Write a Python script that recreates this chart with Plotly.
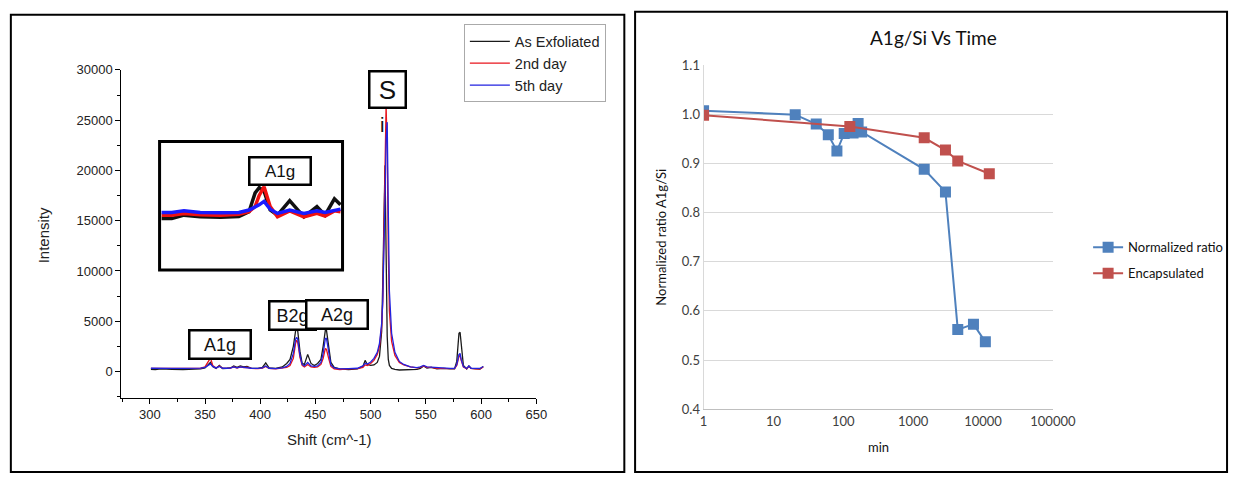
import plotly.graph_objects as go

W, H = 1252, 482

# ---------------- Raman spectrum data (left panel) ----------------
shift = [301, 305, 310, 315, 320, 330, 340, 346, 350, 353,
         355, 357, 360, 363, 366, 370, 373, 376, 379, 382,
         385, 388, 392, 398, 402, 405, 408, 414, 420, 424,
         427, 430, 432, 433, 434, 436, 438, 440, 443, 446,
         449, 452, 455, 457, 459, 460, 462, 464, 467, 472,
         480, 488, 493, 495, 497, 500, 503, 506, 508, 510,
         511, 512, 513, 514, 515, 516, 517, 519, 522, 526,
         530, 536, 542, 545, 548, 551, 555, 560, 566, 572,
         576, 578, 580, 581, 582, 584, 587, 589, 591, 595,
         599, 602]

as_exfoliated = [200, 180, 250, 200, 220, 200, 230, 260, 350, 700,
                 900, 500, 300, 600, 300, 320, 350, 550, 400, 550,
                 450, 500, 300, 300, 400, 850, 350, 300, 450, 800,
                 1200, 2500, 4000, 4200, 4000, 2000, 800, 700, 1700, 800,
                 600, 800, 1200, 2500, 4100, 4100, 2500, 900, 400, 250,
                 200, 250, 500, 1100, 700, 600, 650, 900, 1500, 4000,
                 9000, 17000, 20500, 12000, 3500, 1200, 600, 300, 200, 150,
                 150, 150, 200, 300, 550, 350, 400, 250, 300, 250,
                 250, 1000, 3800, 3900, 2500, 600, 250, 550, 300, 250,
                 250, 500]

day2 = [300, 300, 320, 280, 270, 280, 300, 330, 450, 1000,
        1350, 600, 350, 550, 300, 300, 330, 450, 350, 450,
        380, 420, 300, 280, 330, 500, 300, 250, 300, 400,
        600, 1300, 2800, 3100, 2900, 1400, 600, 450, 700, 450,
        400, 450, 700, 1300, 2300, 2200, 1300, 500, 250, 200,
        250, 280, 400, 650, 600, 800, 1100, 1700, 2500, 4500,
        7000, 12000, 20000, 26500, 22000, 12000, 6000, 3000, 1600, 900,
        650, 450, 350, 400, 550, 400, 400, 300, 300, 280,
        280, 600, 1500, 1600, 1100, 450, 280, 500, 300, 250,
        260, 450]

day5 = [320, 330, 350, 300, 300, 300, 320, 340, 420, 650,
        750, 500, 350, 500, 320, 320, 340, 450, 360, 450,
        400, 420, 320, 300, 350, 550, 320, 280, 350, 500,
        800, 1800, 3200, 3400, 3200, 1600, 700, 550, 900, 550,
        500, 550, 900, 1800, 3300, 3300, 1800, 650, 350, 250,
        280, 320, 550, 800, 750, 950, 1300, 1900, 2800, 4800,
        7000, 11000, 17000, 23000, 24800, 16000, 8000, 3800, 1900, 1000,
        700, 450, 380, 450, 600, 450, 420, 320, 320, 300,
        300, 700, 1700, 1800, 1200, 500, 300, 550, 320, 280,
        300, 500]

# inset (zoom on the A1g region)
inset_shift = [330.5, 333, 336, 340, 345, 349.5, 352, 353.5, 354.5,
               355.7, 357.2, 359, 362, 365.5, 368.7, 370.7, 373, 374.5]
inset_exf = [600, 600, 640, 620, 615, 625, 680, 900, 960,
             920, 700, 640, 810, 620, 740, 640, 830, 760]
inset_day2 = [640, 640, 660, 645, 640, 650, 680, 740, 870,
              970, 740, 620, 690, 620, 660, 630, 690, 680]
inset_day5 = [670, 672, 690, 672, 668, 672, 700, 730, 760,
              800, 710, 660, 700, 660, 690, 670, 700, 710]

# ---------------- A1g/Si vs time (right panel) ----------------
time_norm = [1, 20.5, 41, 61, 81, 103, 138, 163, 183, 1440, 2900, 4350, 7300, 10800]
ratio_norm = [1.007, 0.999, 0.980, 0.958, 0.925, 0.961, 0.962, 0.981, 0.964,
              0.888, 0.842, 0.562, 0.573, 0.537]
time_enc = [1, 124, 1440, 2900, 4350, 12300]
ratio_enc = [0.998, 0.975, 0.952, 0.927, 0.905, 0.879]
log_tickvals = [1, 10, 100, 1000, 10000, 100000]
log_ticktext = ["1", "10", "100", "1000", "10000", "100000"]


def px(x):
    return x / W


def py(y):
    return 1 - y / H


ARIAL = "Liberation Sans, Arial, sans-serif"
CAL = "Lato, Carlito, sans-serif"

fig = go.Figure()

# main spectrum
for name, ys, col in [("As Exfoliated", as_exfoliated, "#1a1a1a"),
                      ("2nd day", day2, "#e8141c"),
                      ("5th day", day5, "#2222e0")]:
    fig.add_trace(go.Scatter(x=shift, y=ys, mode="lines", name=name,
                             line=dict(color=col, width=1.3),
                             xaxis="x", yaxis="y", legend="legend"))

# inset
for ys, col in [(inset_exf, "#111111"), (inset_day2, "#f01010"), (inset_day5, "#1a1aff")]:
    fig.add_trace(go.Scatter(x=inset_shift, y=ys, mode="lines", showlegend=False,
                             line=dict(color=col, width=3.5),
                             xaxis="x3", yaxis="y3"))

# ratio chart
fig.add_trace(go.Scatter(x=time_norm, y=ratio_norm, mode="lines+markers",
                         name="Normalized ratio", legendgroup="norm",
                         line=dict(color="#4f81bd", width=2),
                         marker=dict(symbol="square", size=11, color="#4f81bd"),
                         xaxis="x2", yaxis="y2", legend="legend2"))
fig.add_trace(go.Scatter(x=time_enc, y=ratio_enc, mode="lines+markers",
                         name="Encapsulated", legendgroup="enc",
                         line=dict(color="#c0504d", width=2),
                         marker=dict(symbol="square", size=11, color="#c0504d"),
                         xaxis="x2", yaxis="y2", legend="legend2"))

axis_common = dict(showline=True, linecolor="black", linewidth=1.3, ticks="outside",
                   ticklen=5, tickwidth=1.2, tickcolor="black", showgrid=False,
                   zeroline=False, tickfont=dict(family=ARIAL, size=13, color="#222"))


def text_ann(text, x, y, size, family, angle=0, color="#111"):
    return dict(text=text, x=px(x), y=py(y), xref="paper", yref="paper",
                xanchor="center", yanchor="middle", textangle=angle,
                showarrow=False, font=dict(family=family, size=size, color=color))


annotations = [
    text_ann("Intensity", 40, 235, 15, ARIAL, -90, "#222"),
    text_ann("Shift (cm^-1)", 333, 446, 15, ARIAL, 0, "#222"),
    text_ann("A1g/Si Vs Time", 950, 30, 19, CAL),
    text_ann("Normalized ratio A1g/Si", 672, 237, 13, CAL, -90),
    text_ann("min", 894, 454, 13, CAL),
    text_ann("i", 386, 121, 20, ARIAL),
]


def box_label(text, x0, x1, y0, y1, size):
    return dict(text=text, x=px((x0 + x1) / 2), y=py((y0 + y1) / 2), xref="paper", yref="paper",
                xanchor="center", yanchor="middle",
                showarrow=False, width=x1 - x0 - 2, height=y1 - y0 - 2, borderpad=0,
                bordercolor="black", borderwidth=2.5, bgcolor="white",
                font=dict(family=ARIAL, size=size, color="#111"))


annotations += [
    box_label("A1g", 190, 251, 334, 362, 18),
    box_label("B2g", 272, 318, 304, 332, 18),
    box_label("A2g", 310, 371, 303, 331, 18),
    box_label("S", 374, 410, 66, 102, 26),
    box_label("A1g", 252, 313, 155, 182, 17),
]

shapes = [
    dict(type="rect", xref="paper", yref="paper", x0=px(7), x1=px(634), y0=py(480), y1=py(7),
         line=dict(color="black", width=2)),
    dict(type="rect", xref="paper", yref="paper", x0=px(645), x1=px(1250), y0=py(480), y1=py(4),
         line=dict(color="black", width=2)),
    dict(type="rect", xref="paper", yref="paper", x0=px(159), x1=px(346), y0=py(271), y1=py(138),
         line=dict(color="black", width=3)),
]

fig.update_layout(
    width=W, height=H, margin=dict(l=0, r=0, t=0, b=0),
    paper_bgcolor="white", plot_bgcolor="white",
    xaxis=dict(domain=[px(120), px(544)], range=[274.3, 650], anchor="y",
               tickvals=[300, 350, 400, 450, 500, 550, 600, 650],
               minor=dict(ticks="outside", ticklen=3, dtick=25, tick0=0, tickcolor="black"),
               **axis_common),
    yaxis=dict(domain=[py(403), py(64)], range=[-2600, 30000], anchor="x",
               tickvals=[0, 5000, 10000, 15000, 20000, 25000, 30000], tickformat="d",
               minor=dict(ticks="outside", ticklen=3, dtick=2500, tick0=0, tickcolor="black"),
               **axis_common),
    xaxis3=dict(domain=[px(159), px(346)], range=[330, 375], anchor="y3",
                visible=False),
    yaxis3=dict(domain=[py(271), py(138)], range=[0, 1500], anchor="x3",
                visible=False),
    xaxis2=dict(domain=[px(715), px(1072)], type="log", range=[0, 5], anchor="y2",
                tickvals=log_tickvals, ticktext=log_ticktext, showgrid=False,
                showline=True, linecolor="#bfbfbf", linewidth=1, ticks="", zeroline=False,
                tickfont=dict(family=CAL, size=13, color="#404040")),
    yaxis2=dict(domain=[py(415), py(59)], range=[0.4, 1.1], anchor="x2", dtick=0.1,
                tickformat=".1f", showgrid=True, gridcolor="#d9d9d9", gridwidth=1,
                showline=True, linecolor="#d9d9d9", linewidth=1, ticks="", zeroline=False,
                tickfont=dict(family=CAL, size=13, color="#404040")),
    legend=dict(x=px(470), y=py(17), xanchor="left", yanchor="top",
                bordercolor="#aaaaaa", borderwidth=1, bgcolor="white",
                font=dict(family=ARIAL, size=14.5, color="#222"),
                tracegroupgap=0, itemwidth=40),
    legend2=dict(x=px(1108), y=py(232), xanchor="left", yanchor="top",
                 bgcolor="rgba(0,0,0,0)",
                 font=dict(family=CAL, size=13, color="#111"),
                 tracegroupgap=6),
    annotations=annotations,
    shapes=shapes,
    showlegend=True,
)

fig.write_html("out.html")
